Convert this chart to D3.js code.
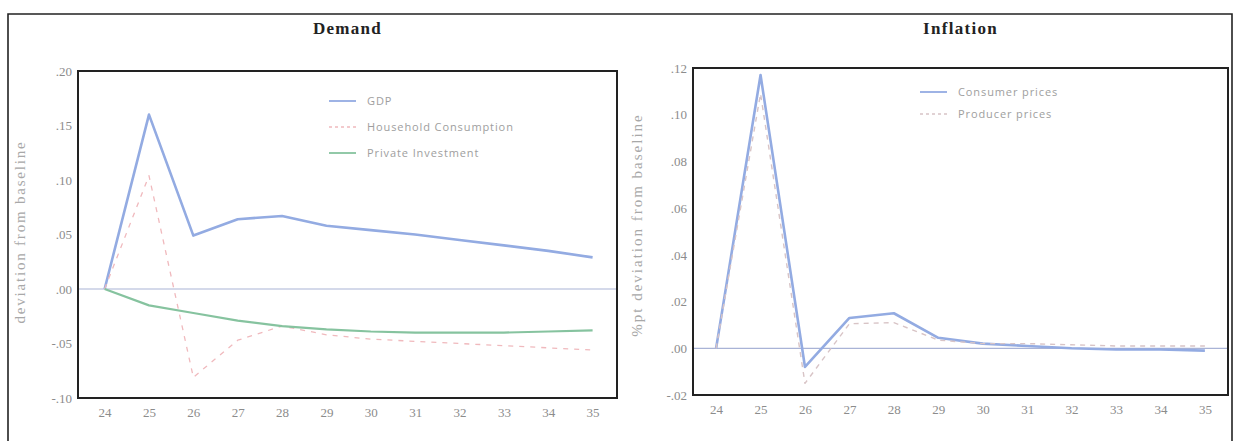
<!DOCTYPE html>
<html>
<head>
<meta charset="utf-8">
<script src="https://cdn.jsdelivr.net/npm/d3@7"></script>
<style>
  html, body { margin: 0; padding: 0; background: #fff; }
  svg { display: block; }
</style>
</head>
<body>
<svg id="chart" width="1235" height="441"></svg>
<script>
// Periods on the horizontal axis
const years = [24, 25, 26, 27, 28, 29, 30, 31, 32, 33, 34, 35];

// Demand panel series (deviation from baseline)
const gdp = [0, 0.160, 0.049, 0.064, 0.067, 0.058, 0.054, 0.050, 0.045, 0.040, 0.035, 0.029];
const householdConsumption = [0, 0.104, -0.081, -0.047, -0.034, -0.042, -0.046, -0.048, -0.050, -0.052, -0.054, -0.056];
const privateInvestment = [0, -0.015, -0.022, -0.029, -0.034, -0.037, -0.039, -0.040, -0.040, -0.040, -0.039, -0.038];

// Inflation panel series (%pt deviation from baseline)
const consumerPrices = [0, 0.117, -0.008, 0.013, 0.015, 0.0045, 0.002, 0.001, 0.0, -0.0005, -0.0005, -0.001];
const producerPrices = [0, 0.109, -0.015, 0.0105, 0.011, 0.0035, 0.002, 0.002, 0.0015, 0.001, 0.001, 0.001];

// Tick labels
const demandTicks = [-0.10, -0.05, 0.00, 0.05, 0.10, 0.15, 0.20];
const inflationTicks = [-0.02, 0.00, 0.02, 0.04, 0.06, 0.08, 0.10, 0.12];

const svg = d3.select("#chart");
const serif = "'Liberation Serif', 'DejaVu Serif', serif";
const sans = "'Open Sans', 'DejaVu Sans', sans-serif";

// Outer frame around both panels
svg.append("path")
  .attr("d", "M8,441 V14 H1232 V441")
  .attr("fill", "none")
  .attr("stroke", "#222")
  .attr("stroke-width", 1.6);

const fmt = v => {
  const s = Math.abs(v).toFixed(2).replace(/^0/, "");
  return (v < 0 ? "-" : "") + s;
};

function panel(cfg) {
  const x = d3.scaleLinear().domain(cfg.xDomain).range([cfg.left, cfg.right]);
  const y = d3.scaleLinear().domain(cfg.yDomain).range([cfg.bottom, cfg.top]);
  const g = svg.append("g");

  // Title
  g.append("text")
    .attr("x", (cfg.left + cfg.right) / 2)
    .attr("y", 34)
    .attr("text-anchor", "middle")
    .attr("font-family", serif)
    .attr("font-weight", "bold")
    .attr("font-size", 17)
    .attr("letter-spacing", 1.3)
    .attr("fill", "#222")
    .text(cfg.title);

  // Y axis tick labels
  const yAxis = d3.axisLeft(y).tickValues(cfg.ticks).tickFormat(fmt).tickSize(0).tickPadding(6);
  const ya = g.append("g").attr("transform", `translate(${cfg.left},0)`).call(yAxis);
  ya.select(".domain").remove();
  ya.selectAll("text")
    .attr("font-family", serif)
    .attr("font-size", 13)
    .attr("fill", "#8c8c8c");

  // X axis tick labels
  const xAxis = d3.axisBottom(x).tickValues(years).tickFormat(d3.format("d")).tickSize(0).tickPadding(10);
  const xa = g.append("g").attr("transform", `translate(0,${cfg.bottom})`).call(xAxis);
  xa.select(".domain").remove();
  xa.selectAll("text")
    .attr("font-family", serif)
    .attr("font-size", 13)
    .attr("fill", "#8c8c8c");

  // Y axis title
  g.append("text")
    .attr("transform", `translate(${cfg.yTitleX},${cfg.yTitleY}) rotate(-90)`)
    .attr("text-anchor", "middle")
    .attr("dy", "0.35em")
    .attr("font-family", serif)
    .attr("font-size", 15)
    .attr("letter-spacing", cfg.yTitleSpacing)
    .attr("fill", "#a8a8a8")
    .text(cfg.yTitle);

  // Zero baseline
  g.append("line")
    .attr("x1", cfg.left).attr("x2", cfg.right)
    .attr("y1", y(0)).attr("y2", y(0))
    .attr("stroke", "#a9b3d6")
    .attr("stroke-width", 1.2);

  // Series lines
  const line = d3.line().x((d, i) => x(years[i])).y(d => y(d));
  cfg.series.forEach(s => {
    g.append("path")
      .datum(s.values)
      .attr("d", line)
      .attr("fill", "none")
      .attr("stroke", s.color)
      .attr("stroke-width", s.width)
      .attr("stroke-dasharray", s.dash || null)
      .attr("stroke-linejoin", "round");
  });

  // Legend
  cfg.series.forEach((s, i) => {
    const ly = cfg.legendY + i * cfg.legendStep;
    g.append("line")
      .attr("x1", cfg.legendX).attr("x2", cfg.legendX + 27)
      .attr("y1", ly).attr("y2", ly)
      .attr("stroke", s.color)
      .attr("stroke-width", Math.min(s.width, 1.8))
      .attr("stroke-dasharray", s.dash ? "3,3" : null);
    g.append("text")
      .attr("x", cfg.legendX + 38)
      .attr("y", ly)
      .attr("dy", "0.35em")
      .attr("font-family", sans)
      .attr("font-size", 11)
      .attr("letter-spacing", 0.9)
      .attr("fill", "#9e9e9e")
      .text(s.name);
  });

  // Plot frame
  g.append("rect")
    .attr("x", cfg.left).attr("y", cfg.top)
    .attr("width", cfg.right - cfg.left)
    .attr("height", cfg.bottom - cfg.top)
    .attr("fill", "none")
    .attr("stroke", "#222")
    .attr("stroke-width", 2);
}

panel({
  title: "Demand",
  left: 78, right: 617, top: 71, bottom: 398,
  xDomain: [23.4, 35.55],
  yDomain: [-0.10, 0.20],
  ticks: demandTicks,
  yTitle: "deviation from baseline",
  yTitleX: 20, yTitleY: 232, yTitleSpacing: 1.8,
  legendX: 329, legendY: 101, legendStep: 26,
  series: [
    { name: "GDP", values: gdp, color: "#93abe2", width: 2.6 },
    { name: "Household Consumption", values: householdConsumption, color: "#f0b9bd", width: 1.3, dash: "5,6" },
    { name: "Private Investment", values: privateInvestment, color: "#86c39f", width: 2.2 }
  ]
});

panel({
  title: "Inflation",
  left: 693, right: 1228, top: 68, bottom: 395,
  xDomain: [23.48, 35.52],
  yDomain: [-0.02, 0.12],
  ticks: inflationTicks,
  yTitle: "%pt deviation from baseline",
  yTitleX: 637, yTitleY: 225, yTitleSpacing: 2.0,
  legendX: 920, legendY: 92, legendStep: 22,
  series: [
    { name: "Consumer prices", values: consumerPrices, color: "#93abe2", width: 2.6 },
    { name: "Producer prices", values: producerPrices, color: "#d8c4c6", width: 1.4, dash: "5,5" }
  ]
});
</script>
</body>
</html>
